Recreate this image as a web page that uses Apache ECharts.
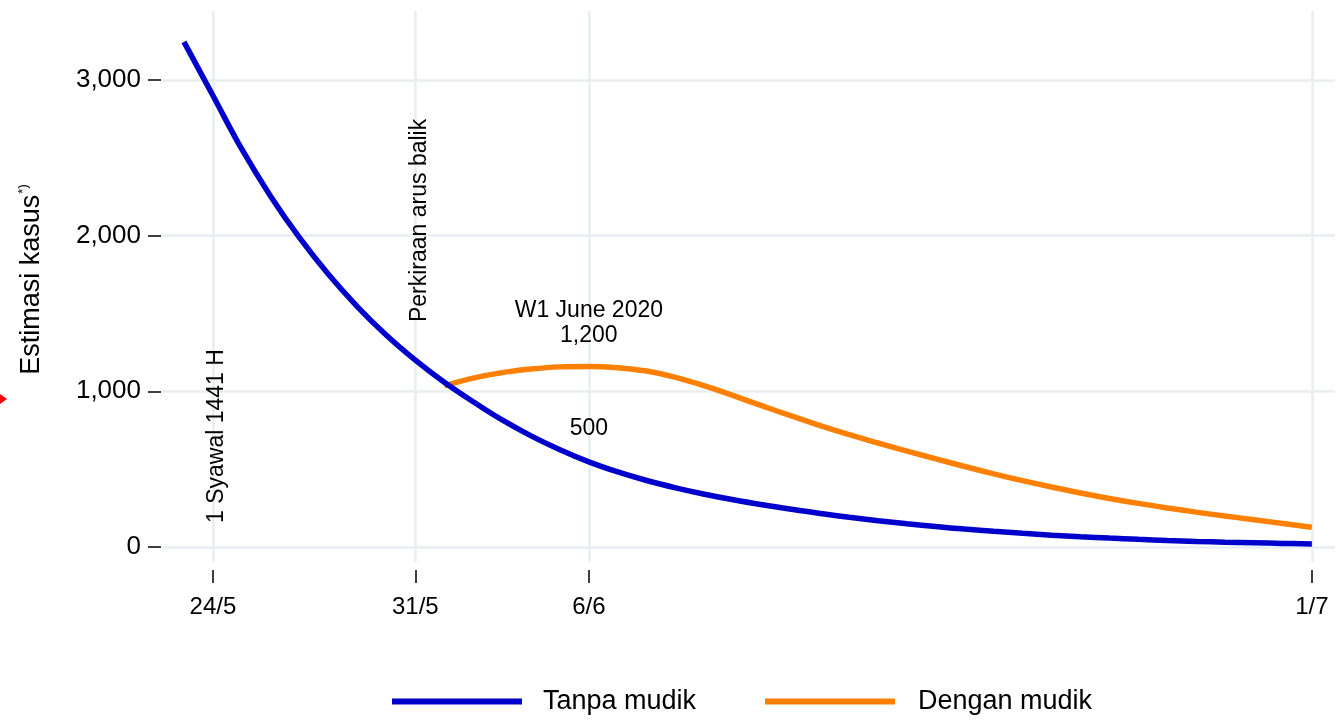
<!DOCTYPE html>
<html>
<head>
<meta charset="utf-8">
<script src="https://cdn.jsdelivr.net/npm/echarts@6/dist/echarts.min.js"></script>
<style>
html,body{margin:0;padding:0;background:#fff;}
#chart{width:1343px;height:721px;}
</style>
</head>
<body>
<div id="chart"></div>
<script>
// Day offsets from 24/5
const tickDays = [0, 7, 13, 38];
const tickLabels = ['24/5', '31/5', '6/6', '1/7'];
const yTicks = [0, 1000, 2000, 3000];

const tanpaDays = [-1,0,1,2,3,4,5,6,7,8,9,10,11,12,13,14,15,16,17,18,19,20,21,22,23,24,25,26,27,28,29,30,31,32,33,34,35,36,37,38];
const tanpaValues = [3245,2900,2555,2252,1985,1750,1543,1360,1200,1058,933,816,714,625,547,482,427,380,339,303,271,242,215,191,169,149,131,115,101,88,76,66,57,49,42,36,31,27,23,20];

const denganDays = [8,9,10,11,12,13,14,15,16,17,18,19,20,21,22,23,24,25,26,27,28,29,30,31,32,33,34,35,36,37,38];
const denganValues = [1035,1085,1120,1143,1157,1160,1152,1130,1090,1035,972,906,842,780,722,668,616,566,517,470,426,385,347,312,280,251,224,199,175,151,127];

const annotations = [
  {text: '1 Syawal 1441 H', day: 0.14, value: 154, rotate: 90},
  {text: 'Perkiraan arus balik', day: 7.14, value: 1445, rotate: 90},
  {text: 'W1 June 2020\n1,200', day: 13, value: 1435, rotate: 0},
  {text: '500', day: 13, value: 758, rotate: 0}
];

const gridColor = '#e7eef1';
const chart = echarts.init(document.getElementById('chart'), null, {renderer: 'canvas'});
const font = '"Liberation Sans", Arial, sans-serif';

const option = {
  animation: false,
  textStyle: {fontFamily: font},
  grid: {left: 162, right: 8, top: 11, bottom: 159, containLabel: false},
  xAxis: {
    type: 'value', min: -1.76, max: 38.8, position: 'bottom', offset: 8,
    axisLine: {show: false, onZero: false},
    axisTick: {show: true, length: 13, customValues: tickDays, lineStyle: {color: '#000', width: 1.5}},
    axisLabel: {show: true, customValues: tickDays, margin: 25, fontSize: 24, color: '#000', fontFamily: font,
      formatter: v => { const i = tickDays.indexOf(v); return i >= 0 ? tickLabels[i] : ''; }},
    splitLine: {show: false}
  },
  yAxis: {
    type: 'value', min: -96.4, max: 3443, offset: 1, position: 'left',
    axisLine: {show: false, onZero: false},
    axisTick: {show: true, length: 13, customValues: yTicks, lineStyle: {color: '#000', width: 1.5}},
    axisLabel: {show: true, customValues: yTicks, margin: 20, fontSize: 26, color: '#000', fontFamily: font,
      formatter: v => v.toLocaleString('en-US')},
    splitLine: {show: false},
    name: '{a|Estimasi kasus}{s|*)}',
    nameLocation: 'middle', nameRotate: 90, nameGap: 114,
    nameTextStyle: {
      padding: [0, 0, 0, 14],
      rich: {
        a: {fontSize: 27, color: '#000', fontFamily: font, lineHeight: 30},
        s: {fontSize: 13, color: '#000', fontFamily: font, verticalAlign: 'top', lineHeight: 30, padding: [0,0,12,1]}
      }
    }
  },
  legend: [
    {data: ['Tanpa mudik'], left: 392, top: 688, padding: 0, icon: 'rect', itemWidth: 130, itemHeight: 6,
     textStyle: {fontSize: 27, color: '#000', fontFamily: font, padding: [0,0,0,16]}},
    {data: ['Dengan mudik'], left: 765, top: 688, padding: 0, icon: 'rect', itemWidth: 130, itemHeight: 6,
     textStyle: {fontSize: 27, color: '#000', fontFamily: font, padding: [0,0,0,18]}}
  ],
  graphic: [
    {type: 'polygon', shape: {points: [[0,394],[7,399],[0,404]]}, style: {fill: '#ff0000'}}
  ],
  series: [
    {
      name: 'grid', type: 'line', data: [], z: 0, zlevel: 0, silent: true,
      markLine: {
        silent: true, symbol: 'none', animation: false,
        label: {show: false},
        lineStyle: {color: gridColor, width: 2.5, type: 'solid'},
        data: yTicks.map(v => ({yAxis: v})).concat(tickDays.map(d => ({xAxis: d})))
      }
    },
    {
      name: 'Tanpa mudik', type: 'line', smooth: 0.4, showSymbol: false, z: 3, zlevel: 1,
      data: tanpaDays.map((d, i) => [d, tanpaValues[i]]),
      lineStyle: {color: '#0000cc', width: 5.5},
      itemStyle: {color: '#0000cc'}
    },
    {
      name: 'Dengan mudik', type: 'line', smooth: 0.4, showSymbol: false, z: 2, zlevel: 1,
      data: denganDays.map((d, i) => [d, denganValues[i]]),
      lineStyle: {color: '#ff8000', width: 5.5},
      itemStyle: {color: '#ff8000'}
    },
    {
      name: 'annot', type: 'scatter', symbolSize: 0, z: 4, zlevel: 1, silent: true,
      itemStyle: {color: '#000000'},
      data: annotations.map(a => ({
        value: [a.day, a.value],
        label: {
          show: true, formatter: a.text, position: 'inside',
          rotate: a.rotate,
          align: a.rotate ? 'left' : 'center',
          verticalAlign: 'middle',
          fontSize: 23, lineHeight: 25, color: '#000000', opacity: 1, fontFamily: font,
          textBorderWidth: 0, textBorderColor: 'transparent', textShadowBlur: 0
        }
      }))
    }
  ]
};
chart.setOption(option);
</script>
</body>
</html>
